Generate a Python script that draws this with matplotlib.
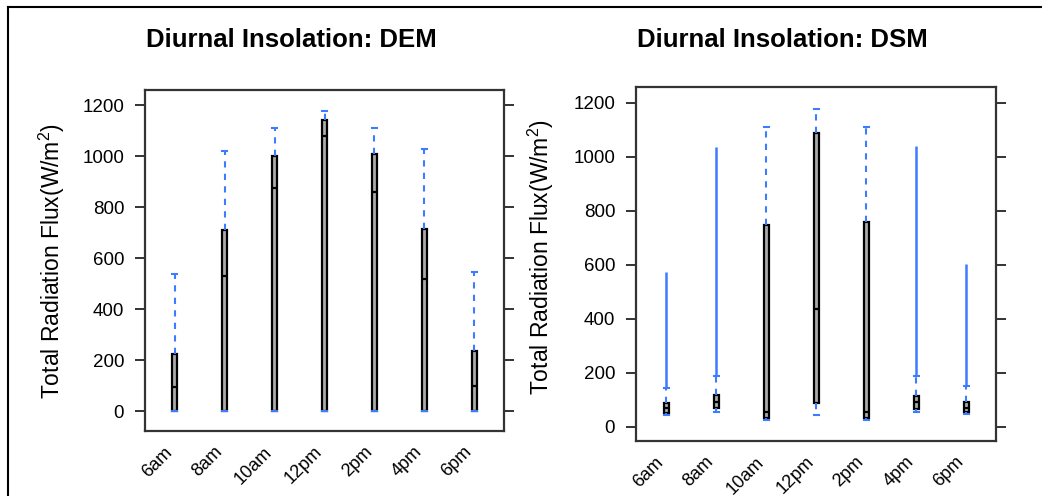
import matplotlib
matplotlib.use("Agg")
import matplotlib.pyplot as plt
import matplotlib.transforms as mtransforms
from matplotlib.lines import Line2D

plt.rcParams['font.family'] = ['Liberation Sans', 'DejaVu Sans']
plt.rcParams['mathtext.fontset'] = 'custom'
plt.rcParams['mathtext.rm'] = 'Liberation Sans'
plt.rcParams['mathtext.it'] = 'Liberation Sans:italic'

hours = ["6am", "8am", "10am", "12pm", "2pm", "4pm", "6pm"]

# DEM box stats
dem_whislo = [0, 0, 0, 0, 0, 0, 0]
dem_q1 = [0, 0, 0, 0, 0, 0, 0]
dem_med = [94, 531, 876, 1080, 860, 520, 98]
dem_q3 = [223, 710, 999, 1141, 1008, 716, 236]
dem_whishi = [537, 1018, 1111, 1176, 1111, 1027, 544]

# DSM box stats
dsm_whislo = [44, 57, 26, 44, 26, 57, 47]
dsm_q1 = [53, 69, 32, 90, 32, 65, 57]
dsm_med = [69, 94, 55, 436, 55, 94, 72]
dsm_q3 = [90, 118, 748, 1088, 758, 115, 94]
dsm_whishi = [143, 190, 1112, 1177, 1112, 190, 153]
# outliers (dense, drawn as a solid run)
dsm_out_lo = [146, 193, None, None, None, 193, 156]
dsm_out_hi = [573, 1038, None, None, None, 1042, 604]

blue = "#3d7bff"
spine_col = "#333333"


def make_stats(lo, q1, med, q3, hi):
    out = []
    for i in range(len(med)):
        out.append(dict(whislo=lo[i], q1=q1[i], med=med[i], q3=q3[i],
                        whishi=hi[i], fliers=[]))
    return out


def draw_panel(ax, stats, ylim):
    pos = list(range(1, len(hours) + 1))
    ax.bxp(stats, positions=pos, widths=0.1, capwidths=0.1,
           patch_artist=True, showfliers=False,
           boxprops=dict(facecolor="#aaaaaa", edgecolor="black", linewidth=1.6),
           medianprops=dict(color="black", linewidth=1.6),
           whiskerprops=dict(color=blue, linestyle=(0, (3, 3)), linewidth=1.5),
           capprops=dict(color=blue, linewidth=1.5))
    ax.set_xlim(0.4, 7.6)
    ax.set_ylim(*ylim)
    ax.set_yticks([0, 200, 400, 600, 800, 1000, 1200])
    ax.tick_params(axis='y', which='both', direction='out', length=7, width=1.4,
                   color=spine_col, labelsize=13.5, right=True, labelright=False,
                   pad=8)
    ax.tick_params(axis='x', length=0, pad=9)
    ax.set_xticks(pos)
    ax.set_xticklabels(hours, rotation=45, ha='right', rotation_mode='anchor',
                       fontsize=13)
    shift = mtransforms.ScaledTranslation(-11 / 100, 0, fig.dpi_scale_trans)
    for lab in ax.get_xticklabels():
        lab.set_transform(lab.get_transform() + shift)
    for s in ax.spines.values():
        s.set_linewidth(1.6)
        s.set_color(spine_col)
    return pos


fig = plt.figure(figsize=(10.42, 4.96), dpi=100)

ax1 = fig.add_axes([0.1392, 0.1310, 0.3445, 0.6875])
draw_panel(ax1, make_stats(dem_whislo, dem_q1, dem_med, dem_q3, dem_whishi),
           (-78, 1259))

ax2 = fig.add_axes([0.6104, 0.1109, 0.3455, 0.7137])
pos = draw_panel(ax2, make_stats(dsm_whislo, dsm_q1, dsm_med, dsm_q3, dsm_whishi),
                 (-52, 1259))
for p, lo, hi in zip(pos, dsm_out_lo, dsm_out_hi):
    if lo is not None:
        ax2.vlines(p, lo, hi, color=blue, linewidth=1.8)

ylab = 'Total Radiation Flux(W/m$^2$)'
fig.text(0.050, 0.474, ylab, rotation=90, ha='center', va='center', fontsize=16.5)
fig.text(0.519, 0.482, ylab, rotation=90, ha='center', va='center', fontsize=16.5)

fig.text(0.280, 0.919, "Diurnal Insolation: DEM", ha='center', va='center',
         fontsize=18.5, fontweight='bold')
fig.text(0.7505, 0.919, "Diurnal Insolation: DSM", ha='center', va='center',
         fontsize=18.5, fontweight='bold')

# outer frame (top and left edges visible in the original)
fig.add_artist(Line2D([8 / 1042, 1], [1 - 7 / 496, 1 - 7 / 496],
                      transform=fig.transFigure, color='black', linewidth=1.5))
fig.add_artist(Line2D([8 / 1042, 8 / 1042], [0, 1 - 7 / 496],
                      transform=fig.transFigure, color='black', linewidth=1.5))

fig.savefig("out.png", dpi=100)
